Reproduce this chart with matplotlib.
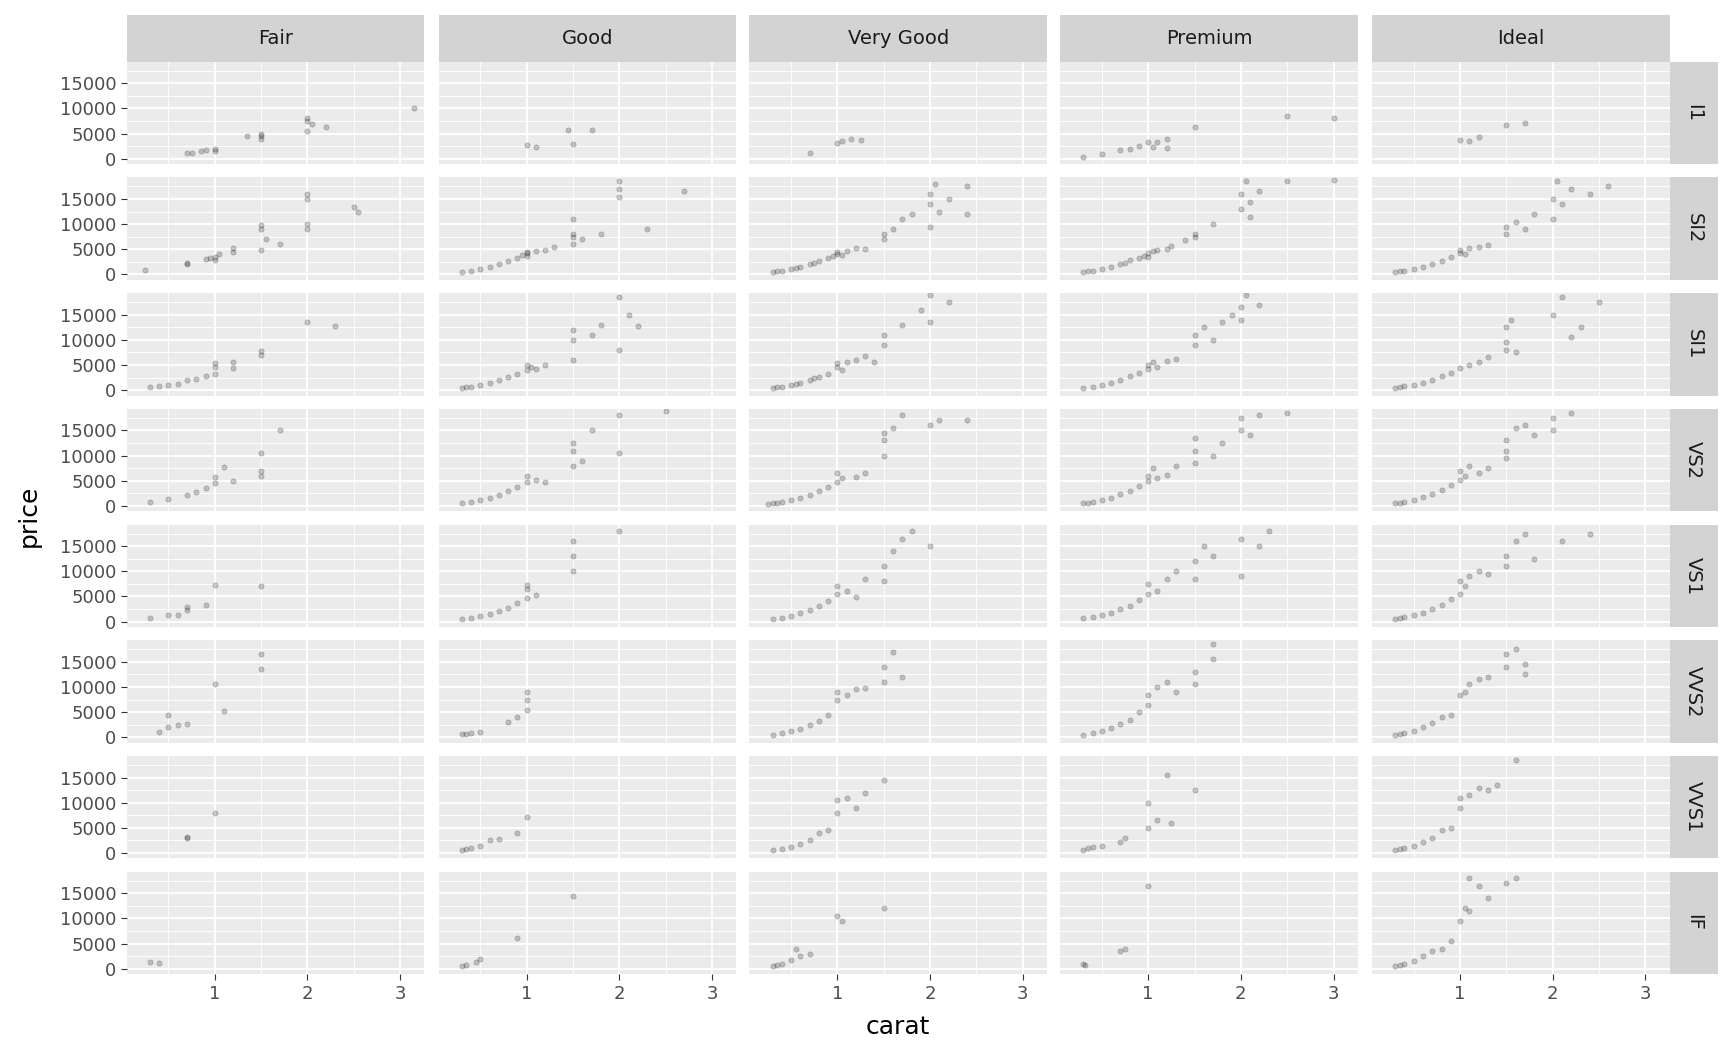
import numpy as np
import matplotlib.pyplot as plt
from matplotlib.ticker import MultipleLocator

cuts = ["Fair", "Good", "Very Good", "Premium", "Ideal"]
clarities = ["I1", "SI2", "SI1", "VS2", "VS1", "VVS2", "VVS1", "IF"]

# (carat, price) pairs, per cut
i1_pts = {
    "Fair": [(0.7, 1100), (0.75, 1200), (0.85, 1500), (0.9, 1700), (1.0, 1900), (1.0, 1600), (1.35, 4500),
             (1.5, 4500), (1.5, 4000), (1.5, 5000), (2.0, 5500), (2.0, 7500), (2.0, 8000), (2.05, 7000),
             (2.2, 6300), (3.15, 10000)],
    "Good": [(1.0, 2800), (1.1, 2300), (1.45, 5800), (1.5, 3000), (1.7, 5800)],
    "Very Good": [(0.7, 1200), (1.0, 3100), (1.05, 3500), (1.15, 4000), (1.25, 3800)],
    "Premium": [(0.3, 400), (0.5, 1000), (0.7, 1700), (0.8, 2000), (0.9, 2600), (1.0, 3300), (1.05, 2400),
                (1.1, 3300), (1.2, 4000), (1.2, 2100), (1.5, 6300), (2.5, 8400), (3.0, 8000)],
    "Ideal": [(1.0, 3700), (1.1, 3600), (1.2, 4300), (1.5, 6800), (1.7, 7200)],
}
si2_pts = {
    "Fair": [(0.25, 900), (0.7, 2000), (0.7, 2300), (0.9, 3000), (0.95, 3300), (1.0, 3500), (1.0, 2900),
             (1.05, 4000), (1.2, 4500), (1.2, 5300), (1.5, 9000), (1.5, 4800), (1.5, 9800), (1.55, 7000),
             (1.7, 6000), (2.0, 15000), (2.0, 16000), (2.0, 9000), (2.0, 10000), (2.5, 13500), (2.55, 12500)],
    "Good": [(0.3, 500), (0.4, 700), (0.5, 1100), (0.6, 1500), (0.7, 2000), (0.8, 2600), (0.9, 3300),
             (0.95, 3800), (1.0, 4200), (1.0, 3600), (1.0, 4500), (1.1, 4600), (1.2, 4900), (1.3, 5500),
             (1.5, 7500), (1.5, 8000), (1.5, 6000), (1.5, 11000), (1.6, 7000), (1.8, 8000), (2.0, 15500),
             (2.0, 17000), (2.0, 18500), (2.3, 9000), (2.7, 16500)],
    "Very Good": [(0.3, 500), (0.35, 600), (0.4, 700), (0.5, 1000), (0.55, 1300), (0.6, 1500), (0.7, 2000),
                  (0.75, 2300), (0.8, 2700), (0.9, 3200), (0.95, 3600), (1.0, 4000), (1.0, 4500), (1.05, 3800),
                  (1.1, 4600), (1.2, 5200), (1.3, 5000), (1.5, 7000), (1.5, 8000), (1.6, 9000), (1.7, 11000),
                  (1.8, 12000), (2.0, 14000), (2.0, 16000), (2.0, 9500), (2.05, 18000), (2.1, 12500),
                  (2.2, 15000), (2.4, 12000), (2.4, 17500)],
    "Premium": [(0.3, 500), (0.35, 600), (0.4, 700), (0.5, 1000), (0.6, 1500), (0.7, 2000), (0.75, 2300),
                (0.8, 2800), (0.9, 3300), (0.95, 3700), (1.0, 4200), (1.0, 3500), (1.05, 4600), (1.1, 4800),
                (1.2, 5000), (1.25, 5600), (1.4, 6800), (1.5, 8000), (1.5, 7500), (1.7, 10000), (2.0, 16000),
                (2.0, 13000), (2.05, 18500), (2.1, 11500), (2.1, 14500), (2.2, 16500), (2.5, 18500),
                (3.0, 18800)],
    "Ideal": [(0.3, 500), (0.35, 600), (0.4, 750), (0.5, 1100), (0.6, 1500), (0.7, 2100), (0.8, 2700),
              (0.9, 3400), (1.0, 4200), (1.0, 4800), (1.05, 4000), (1.1, 5200), (1.2, 5400), (1.3, 5900),
              (1.5, 8000), (1.5, 9500), (1.6, 10500), (1.7, 9000), (1.8, 12000), (2.0, 15000), (2.0, 11000),
              (2.05, 18500), (2.1, 14000), (2.2, 17000), (2.4, 16000), (2.6, 17500)],
}
si1_pts = {
    "Fair": [(0.3, 600), (0.4, 800), (0.5, 1100), (0.6, 1300), (0.7, 2000), (0.8, 2300), (0.9, 2800),
             (1.0, 3300), (1.0, 4500), (1.0, 5300), (1.2, 5500), (1.2, 4300), (1.5, 7800), (1.5, 7000),
             (2.0, 13500), (2.3, 12800)],
    "Good": [(0.3, 500), (0.35, 600), (0.4, 700), (0.5, 1000), (0.6, 1400), (0.7, 2000), (0.8, 2600),
             (0.9, 3300), (1.0, 4000), (1.0, 5000), (1.05, 4600), (1.1, 4200), (1.2, 5000), (1.5, 6000),
             (1.5, 10000), (1.5, 12000), (1.7, 11000), (1.8, 13000), (2.0, 8000), (2.0, 18500),
             (2.1, 15000), (2.2, 12800)],
    "Very Good": [(0.3, 500), (0.35, 600), (0.4, 700), (0.5, 1100), (0.55, 1300), (0.6, 1500), (0.7, 2100),
                  (0.75, 2400), (0.8, 2700), (0.9, 3300), (1.0, 4500), (1.0, 5300), (1.05, 4000), (1.1, 5500),
                  (1.2, 6000), (1.3, 6800), (1.4, 5500), (1.5, 9000), (1.5, 11000), (1.7, 13000), (1.9, 16000),
                  (2.0, 13500), (2.0, 19000), (2.2, 17500)],
    "Premium": [(0.3, 500), (0.4, 700), (0.5, 1100), (0.6, 1500), (0.7, 2100), (0.8, 2800), (0.9, 3500),
                (1.0, 4200), (1.0, 5000), (1.05, 5500), (1.1, 4600), (1.2, 5800), (1.3, 6200), (1.5, 9000),
                (1.5, 11000), (1.6, 12500), (1.7, 10000), (1.8, 13500), (1.9, 15000), (2.0, 16500),
                (2.0, 14000), (2.05, 19000), (2.2, 17000)],
    "Ideal": [(0.3, 500), (0.35, 600), (0.4, 750), (0.5, 1100), (0.6, 1500), (0.7, 2100), (0.8, 2800),
              (0.9, 3500), (1.0, 4300), (1.1, 4900), (1.2, 5600), (1.3, 6500), (1.5, 8000), (1.5, 9500),
              (1.5, 12500), (1.55, 14000), (1.6, 7500), (2.0, 15000), (2.1, 18500), (2.2, 10500),
              (2.3, 12500), (2.5, 17500)],
}
vs2_pts = {
    "Fair": [(0.3, 700), (0.5, 1300), (0.7, 2200), (0.8, 2700), (0.9, 3500), (1.0, 4500), (1.0, 5800),
             (1.1, 7700), (1.2, 5000), (1.5, 7000), (1.5, 10500), (1.5, 6000), (1.7, 15000)],
    "Good": [(0.3, 500), (0.4, 700), (0.5, 1100), (0.6, 1500), (0.7, 2200), (0.8, 3000), (0.9, 3800),
             (1.0, 4700), (1.0, 6000), (1.1, 5200), (1.2, 4700), (1.5, 8000), (1.5, 11000), (1.5, 12500),
             (1.6, 9000), (1.7, 15000), (2.0, 10500), (2.0, 18000), (2.5, 18800)],
    "Very Good": [(0.25, 450), (0.3, 500), (0.35, 650), (0.4, 800), (0.5, 1100), (0.6, 1600), (0.7, 2200),
                  (0.8, 3000), (0.9, 3800), (1.0, 4800), (1.0, 6500), (1.05, 5500), (1.2, 5800), (1.3, 6500),
                  (1.5, 10000), (1.5, 13000), (1.5, 14500), (1.6, 15500), (1.7, 18000), (2.0, 16000),
                  (2.1, 17000), (2.4, 17000)],
    "Premium": [(0.3, 500), (0.35, 650), (0.4, 800), (0.5, 1100), (0.6, 1600), (0.7, 2300), (0.8, 3000),
                (0.9, 4000), (1.0, 5000), (1.0, 6000), (1.05, 7500), (1.1, 5500), (1.2, 6200), (1.3, 8000),
                (1.5, 11000), (1.5, 13500), (1.5, 8500), (1.7, 10000), (1.8, 12500), (2.0, 15000),
                (2.0, 17500), (2.1, 14000), (2.2, 18000), (2.5, 18500)],
    "Ideal": [(0.3, 500), (0.35, 650), (0.4, 800), (0.5, 1200), (0.6, 1700), (0.7, 2300), (0.8, 3200),
              (0.9, 4200), (1.0, 5200), (1.0, 7000), (1.05, 6000), (1.1, 8000), (1.2, 6500), (1.3, 7500),
              (1.5, 11000), (1.5, 13000), (1.5, 9500), (1.6, 15500), (1.7, 16000), (1.8, 14000),
              (2.0, 17500), (2.0, 15000), (2.2, 18500)],
}
vs1_pts = {
    "Fair": [(0.3, 600), (0.5, 1200), (0.6, 1300), (0.7, 2300), (0.7, 2800), (0.9, 3300), (1.0, 7300),
             (1.5, 7000)],
    "Good": [(0.3, 500), (0.4, 700), (0.5, 1100), (0.6, 1500), (0.7, 2000), (0.8, 2700), (0.9, 3600),
             (1.0, 4600), (1.0, 6500), (1.0, 7200), (1.1, 5200), (1.5, 10000), (1.5, 13000), (1.5, 16000),
             (2.0, 18000)],
    "Very Good": [(0.3, 500), (0.4, 750), (0.5, 1100), (0.6, 1600), (0.7, 2200), (0.8, 3000), (0.9, 4000),
                  (1.0, 5500), (1.0, 7000), (1.1, 6000), (1.2, 4800), (1.3, 8500), (1.5, 11000), (1.5, 8000),
                  (1.6, 14000), (1.7, 16500), (1.8, 18000), (2.0, 15000)],
    "Premium": [(0.3, 600), (0.4, 800), (0.5, 1200), (0.6, 1700), (0.7, 2400), (0.8, 3100), (0.9, 4200),
                (1.0, 5500), (1.0, 7500), (1.1, 6000), (1.2, 8500), (1.3, 10000), (1.5, 12000), (1.5, 8500),
                (1.6, 15000), (1.7, 13000), (2.0, 16500), (2.0, 9000), (2.3, 18000), (2.2, 15000)],
    "Ideal": [(0.3, 500), (0.35, 650), (0.4, 800), (0.5, 1200), (0.6, 1700), (0.7, 2400), (0.8, 3300),
              (0.9, 4500), (1.0, 5500), (1.0, 8000), (1.05, 7000), (1.1, 9000), (1.2, 10000), (1.3, 9500),
              (1.5, 13000), (1.5, 11000), (1.6, 16000), (1.7, 17500), (1.8, 12500), (2.1, 16000),
              (2.4, 17500)],
}
vvs2_pts = {
    "Fair": [(0.4, 1000), (0.5, 2000), (0.5, 4500), (0.6, 2500), (0.7, 2700), (1.0, 10500), (1.1, 5300),
             (1.5, 13500), (1.5, 16500)],
    "Good": [(0.3, 600), (0.35, 700), (0.4, 800), (0.5, 1100), (0.8, 3000), (0.9, 4000), (1.0, 5500),
             (1.0, 7500), (1.0, 9000)],
    "Very Good": [(0.3, 500), (0.4, 750), (0.5, 1200), (0.6, 1700), (0.7, 2400), (0.8, 3300), (0.9, 4500),
                  (1.0, 7500), (1.0, 9000), (1.1, 8500), (1.2, 9500), (1.3, 9800), (1.5, 11000), (1.5, 14000),
                  (1.6, 17000), (1.7, 12000)],
    "Premium": [(0.3, 500), (0.4, 800), (0.5, 1200), (0.6, 1900), (0.7, 2700), (0.8, 3500), (0.9, 5000),
                (1.0, 6500), (1.0, 8500), (1.1, 10000), (1.2, 11000), (1.3, 9000), (1.5, 13000),
                (1.5, 10500), (1.7, 15500), (1.7, 18500)],
    "Ideal": [(0.3, 500), (0.35, 650), (0.4, 850), (0.5, 1300), (0.6, 2000), (0.7, 2800), (0.8, 4000),
              (0.9, 4500), (1.0, 8500), (1.05, 9000), (1.1, 10500), (1.2, 11500), (1.3, 12000),
              (1.5, 14000), (1.5, 16500), (1.6, 17500), (1.7, 12500), (1.7, 14500)],
}
vvs1_pts = {
    "Fair": [(0.7, 2900), (0.7, 3100), (1.0, 8000)],
    "Good": [(0.3, 600), (0.35, 700), (0.4, 900), (0.5, 1400), (0.6, 2500), (0.7, 2700), (0.9, 4000),
             (1.0, 7200)],
    "Very Good": [(0.3, 500), (0.4, 750), (0.5, 1200), (0.6, 1800), (0.7, 2600), (0.8, 4000), (0.9, 4500),
                  (1.0, 8000), (1.0, 10500), (1.1, 11000), (1.2, 9000), (1.3, 12000), (1.5, 14500)],
    "Premium": [(0.3, 600), (0.35, 900), (0.4, 1100), (0.5, 1300), (0.7, 2200), (0.75, 2900), (1.0, 5000),
                (1.0, 10000), (1.1, 6500), (1.2, 15500), (1.25, 6000), (1.5, 12500)],
    "Ideal": [(0.3, 500), (0.35, 700), (0.4, 900), (0.5, 1300), (0.6, 2200), (0.7, 3000), (0.8, 4500),
              (0.9, 5000), (1.0, 9000), (1.0, 11000), (1.1, 11500), (1.2, 13000), (1.3, 12500),
              (1.4, 13500), (1.6, 18500)],
}
if_pts = {
    "Fair": [(0.3, 1300), (0.4, 1100)],
    "Good": [(0.3, 600), (0.35, 800), (0.45, 1300), (0.5, 2000), (0.9, 6000), (1.5, 14500)],
    "Very Good": [(0.3, 500), (0.35, 800), (0.4, 1000), (0.5, 1800), (0.55, 4000), (0.6, 2500),
                  (0.7, 3000), (1.0, 10500), (1.05, 9500), (1.5, 12000)],
    "Premium": [(0.3, 1000), (0.32, 800), (0.7, 3500), (0.75, 4000), (1.0, 16500)],
    "Ideal": [(0.3, 500), (0.35, 700), (0.4, 1000), (0.5, 1500), (0.6, 2500), (0.7, 3500), (0.8, 4000),
              (0.9, 5500), (1.0, 9500), (1.05, 12000), (1.1, 11500), (1.2, 16500), (1.3, 14000),
              (1.5, 17000), (1.1, 18000), (1.6, 18000)],
}
panel_data = [i1_pts, si2_pts, si1_pts, vs2_pts, vs1_pts, vvs2_pts, vvs1_pts, if_pts]

W, H = 1728, 1056
k = 1.102  # layout was measured on a ~1568-wide view
fig = plt.figure(figsize=(W / 100, H / 100), dpi=100)

col_left = [115, 398, 680, 962, 1245]
pw = 270
row_top = [56, 161, 266, 371, 476, 581, 686, 791]
ph = 93
strip_h = 42
strip_w = 44
txt = "#4D4D4D"

def px_axes(x, y, w, h):
    return fig.add_axes([x * k / W, 1 - (y + h) * k / H, w * k / W, h * k / H])

for r, clar in enumerate(clarities):
    for c, cut in enumerate(cuts):
        x0, y0 = col_left[c], row_top[r]
        ax = px_axes(x0, y0, pw, ph)
        ax.set_facecolor("#EBEBEB")
        pts = np.array(panel_data[r][cut])
        ax.scatter(pts[:, 0], pts[:, 1], s=14, c="black", alpha=0.2, linewidths=0.6,
                   edgecolors="black", zorder=3)
        ax.set_xlim(0.05, 3.26)
        ax.set_ylim(-1100, 19300)
        ax.xaxis.set_major_locator(MultipleLocator(1))
        ax.xaxis.set_minor_locator(MultipleLocator(0.5))
        ax.set_yticks([0, 5000, 10000, 15000])
        ax.yaxis.set_minor_locator(MultipleLocator(2500))
        ax.grid(which="major", color="white", lw=1.3)
        ax.grid(which="minor", color="white", lw=0.65)
        ax.set_axisbelow(True)
        for s in ax.spines.values():
            s.set_visible(False)
        ax.tick_params(which="minor", length=0)
        ax.tick_params(which="major", length=4, color="#333333", labelcolor=txt, labelsize=13)
        if c != 0:
            ax.tick_params(axis="y", left=False, labelleft=False)
        if r != len(clarities) - 1:
            ax.tick_params(axis="x", bottom=False, labelbottom=False)
        if r == 0:
            sa = px_axes(x0, y0 - strip_h, pw, strip_h)
            sa.set_facecolor("#D3D3D3")
            sa.set_xticks([]); sa.set_yticks([])
            for s in sa.spines.values():
                s.set_visible(False)
            sa.text(0.5, 0.5, cut, ha="center", va="center", fontsize=14, color="#1A1A1A",
                    transform=sa.transAxes)
        if c == len(cuts) - 1:
            sa = px_axes(x0 + pw, y0, strip_w, ph)
            sa.set_facecolor("#D3D3D3")
            sa.set_xticks([]); sa.set_yticks([])
            for s in sa.spines.values():
                s.set_visible(False)
            sa.text(0.5, 0.5, clar, ha="center", va="center", fontsize=14, color="#1A1A1A",
                    rotation=-90, transform=sa.transAxes)

fig.text(815 * k / W, 1 - 932 * k / H, "carat", ha="center", va="center", fontsize=18)
fig.text(26 * k / W, 1 - 468 * k / H, "price", ha="center", va="center", fontsize=18, rotation=90)

fig.savefig("out.png", dpi=100, facecolor="white")
